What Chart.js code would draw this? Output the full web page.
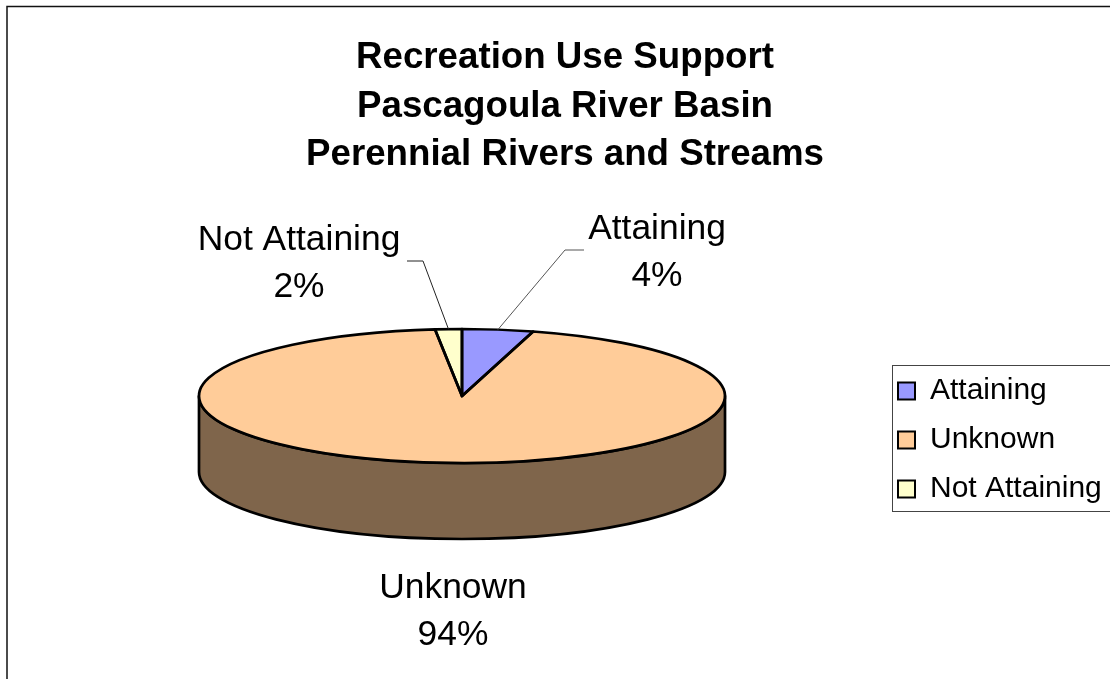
<!DOCTYPE html>
<html>
<head>
<meta charset="utf-8">
<title>Recreation Use Support</title>
<script src="https://cdn.jsdelivr.net/npm/chart.js@4/dist/chart.umd.min.js"></script>
<style>
  html, body { margin: 0; padding: 0; background: #fff; overflow: hidden; }
  canvas { display: block; }
</style>
</head>
<body>
<canvas id="pie" width="1110" height="679"></canvas>
<script>
const titleLines = ['Recreation Use Support', 'Pascagoula River Basin', 'Perennial Rivers and Streams'];
const categories = ['Attaining', 'Unknown', 'Not Attaining'];
const shares = [4.36, 94.0, 1.64];
const sliceColors = ['#9999FF', '#FFCC99', '#FFFFCC'];

const FONT = '"Liberation Sans", Arial, sans-serif';
const TILT = 67 / 263;  // flatten the round pie into an ellipse
const DEPTH = 76;       // height of the wall
const WALL = '#7F654B';

// where the value labels sit: centre x, first baseline, elbow of the leader
const labelSpots = [
  { x: 657, y: 239, elbow: [565, 250], end: [584, 250], color: '#555' },
  { x: 453, y: 598 },
  { x: 299, y: 250, elbow: [423, 261], end: [407, 261], color: '#222' }
];

const pie3d = {
  id: 'pie3d',
  afterLayout(chart) {
    // the pie is bigger than what is left under the title, so place things by hand
    chart.chartArea = { left: 199, right: 725, top: 133, bottom: 659, width: 526, height: 526 };
    chart.titleBlock.left = 20;
    chart.titleBlock.right = 1110;
    const lg = chart.legend;
    const w = lg.width, h = lg.height;
    lg.left = 879; lg.right = 879 + w;
    lg.top = 357; lg.bottom = 357 + h;
  },
  beforeDraw(chart) {
    const ctx = chart.ctx;
    ctx.save();
    ctx.strokeStyle = '#111';
    ctx.lineWidth = 1.5;
    ctx.beginPath();
    ctx.moveTo(7, 679);
    ctx.lineTo(7, 6.5);
    ctx.lineTo(1110, 6.5);
    ctx.stroke();
    // legend frame
    ctx.strokeStyle = '#444';
    ctx.lineWidth = 1;
    ctx.strokeRect(892.5, 365.5, 240, 146);
    ctx.restore();
  },
  beforeDatasetsDraw(chart) {
    const ctx = chart.ctx;
    const arcs = chart.getDatasetMeta(0).data;
    const { x, y, outerRadius: r } = arcs[0];

    ctx.save();
    ctx.lineWidth = 2.7;
    ctx.lineJoin = 'round';
    ctx.strokeStyle = '#000';

    // wall
    ctx.beginPath();
    ctx.ellipse(x, y + DEPTH, r, r * TILT, 0, Math.PI, 0, true);
    ctx.lineTo(x + r, y);
    ctx.ellipse(x, y, r, r * TILT, 0, 0, Math.PI, false);
    ctx.closePath();
    ctx.fillStyle = WALL;
    ctx.fill();
    ctx.stroke();

    // top face, filled by the library's arcs
    ctx.save();
    ctx.translate(x, y);
    ctx.scale(1, TILT);
    ctx.translate(-x, -y);
    arcs.forEach(a => a.draw(ctx));
    ctx.restore();

    // outlines outside the scale so the pen stays round
    arcs.forEach(a => {
      ctx.beginPath();
      ctx.moveTo(x, y);
      ctx.ellipse(x, y, r, r * TILT, 0, a.startAngle, a.endAngle);
      ctx.closePath();
      ctx.stroke();
    });

    ctx.restore();
    return false;
  },
  afterDraw(chart) {
    const ctx = chart.ctx;
    const arcs = chart.getDatasetMeta(0).data;
    const total = shares.reduce((s, v) => s + v, 0);

    ctx.save();
    ctx.font = '35.4px ' + FONT;
    ctx.fillStyle = '#000';
    ctx.textAlign = 'center';
    ctx.textBaseline = 'alphabetic';
    categories.forEach((name, i) => {
      const spot = labelSpots[i];
      ctx.fillText(name, spot.x, spot.y);
      ctx.fillText(Math.round(shares[i] / total * 100) + '%', spot.x, spot.y + 47);
      if (spot.elbow) {
        const a = arcs[i];
        const mid = (a.startAngle + a.endAngle) / 2;
        ctx.strokeStyle = spot.color;
        ctx.lineWidth = 1;
        ctx.beginPath();
        ctx.moveTo(a.x + a.outerRadius * Math.cos(mid), a.y + a.outerRadius * TILT * Math.sin(mid));
        ctx.lineTo(spot.elbow[0], spot.elbow[1]);
        ctx.lineTo(spot.end[0], spot.end[1]);
        ctx.stroke();
      }
    });
    ctx.restore();
  }
};

new Chart(document.getElementById('pie'), {
  type: 'pie',
  data: {
    labels: categories,
    datasets: [{
      data: shares,
      backgroundColor: sliceColors,
      borderWidth: 0
    }]
  },
  plugins: [pie3d],
  options: {
    responsive: false,
    animation: false,
    events: [],
    plugins: {
      tooltip: { enabled: false },
      title: {
        display: true,
        text: titleLines,
        color: '#000',
        font: { family: FONT, size: 36.7, weight: 'bold', lineHeight: 1.32 },
        padding: { top: 34, bottom: 0 }
      },
      legend: {
        position: 'right',
        align: 'start',
        labels: {
          font: { family: FONT, size: 30 },
          color: '#000',
          boxWidth: 17,
          boxHeight: 17,
          padding: 19,
          generateLabels: () => categories.map((name, i) => ({
            text: name,
            fillStyle: sliceColors[i],
            strokeStyle: '#000',
            lineWidth: 2,
            index: i
          }))
        }
      }
    }
  }
});
</script>
</body>
</html>
